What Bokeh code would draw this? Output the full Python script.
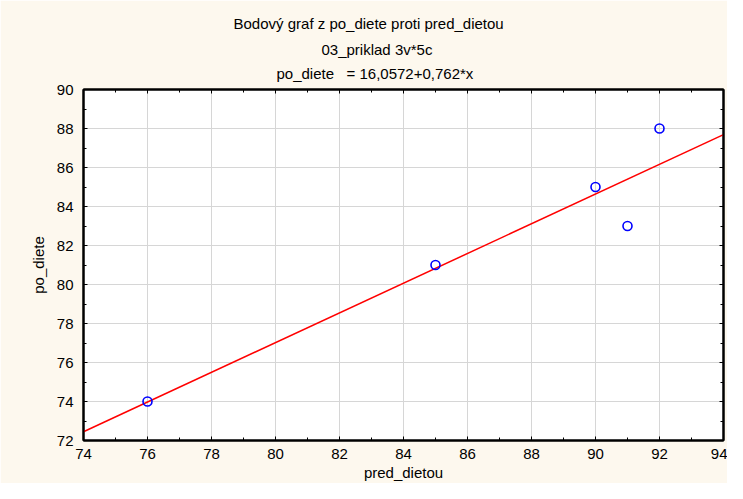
import numpy as np
from bokeh.plotting import figure
from bokeh.models import (LinearAxis, SingleIntervalTicker, Range1d, Title,
                          CustomJSTickFormatter, ColumnDataSource)
from bokeh.embed import file_html
from bokeh.resources import INLINE

# ---- data ----
pred_dietou = [76, 85, 90, 91, 92]
po_diete = [74, 81, 85, 83, 88]
title_lines = ["Bodový graf z po_diete proti pred_dietou",
               "03_priklad 3v*5c",
               "po_diete\u00a0\u00a0 = 16,0572+0,762*x"]
x_label = "pred_dietou"
y_label = "po_diete"
x_range = (74, 94)
y_range = (72, 90)

FONT = "Liberation Sans"
FS = "15px"
BG = "#FDF8EE"

p = figure(width=727, height=483, output_backend="svg", toolbar_location=None,
           x_range=Range1d(*x_range), y_range=Range1d(*y_range),
           min_border_left=83, min_border_right=4, min_border_top=89,
           min_border_bottom=41)
p.background_fill_color = "white"
p.border_fill_color = BG
p.outline_line_color = "black"
p.outline_line_width = 2

xt = SingleIntervalTicker(interval=2, num_minor_ticks=2)
yt = SingleIntervalTicker(interval=2, num_minor_ticks=2)

def style_axis(ax, ticker):
    ax.ticker = ticker
    ax.axis_line_color = "black"
    ax.axis_line_width = 2
    ax.major_tick_in = 4
    ax.major_tick_out = 0
    ax.minor_tick_in = 3
    ax.minor_tick_out = 0
    ax.major_tick_line_color = "black"
    ax.minor_tick_line_color = "black"
    ax.major_label_text_font = FONT
    ax.major_label_text_font_size = FS
    ax.major_label_text_color = "black"
    ax.axis_label_text_font = FONT
    ax.axis_label_text_font_size = FS
    ax.axis_label_text_font_style = "normal"
    ax.axis_label_text_color = "black"

style_axis(p.xaxis[0], xt)
style_axis(p.yaxis[0], yt)
p.xaxis[0].axis_label = x_label
p.yaxis[0].axis_label = y_label
p.xaxis[0].major_label_standoff = 8
p.yaxis[0].major_label_standoff = 10
p.xaxis[0].axis_label_standoff = 2
p.yaxis[0].axis_label_standoff = 7

for side, tk in (("above", xt), ("right", yt)):
    ax = LinearAxis()
    style_axis(ax, tk)
    ax.formatter = CustomJSTickFormatter(code="return ''")
    ax.major_label_standoff = 0
    p.add_layout(ax, side)

p.xgrid.ticker = xt
p.ygrid.ticker = yt
p.xgrid.grid_line_color = "#D6D6D6"
p.ygrid.grid_line_color = "#D6D6D6"
p.xgrid.grid_line_width = 1
p.ygrid.grid_line_width = 1

# regression line computed from data
slope, intercept = np.polyfit(pred_dietou, po_diete, 1)
lx = np.array(x_range, dtype=float)
p.line(lx, intercept + slope * lx, line_color="#FF0000", line_width=1.5)

src = ColumnDataSource(dict(x=pred_dietou, y=po_diete))
p.scatter("x", "y", source=src, marker="circle", size=9, fill_color=None,
          line_color="#0000FF", line_width=1.6)

# title lines, innermost first (left offsets from frame edge, standoffs)
title_offsets = [150, 238, 193]
title_standoffs = [11.8, 0, 10.8]
for txt, off, so in reversed(list(zip(title_lines, title_offsets, title_standoffs))):
    p.add_layout(Title(text=txt, align="left", offset=off, vertical_align="top",
                       text_font=FONT, text_font_size=FS,
                       text_font_style="normal", text_color="black",
                       standoff=so), "above")

open("out.html", "w").write(file_html(p, INLINE))
